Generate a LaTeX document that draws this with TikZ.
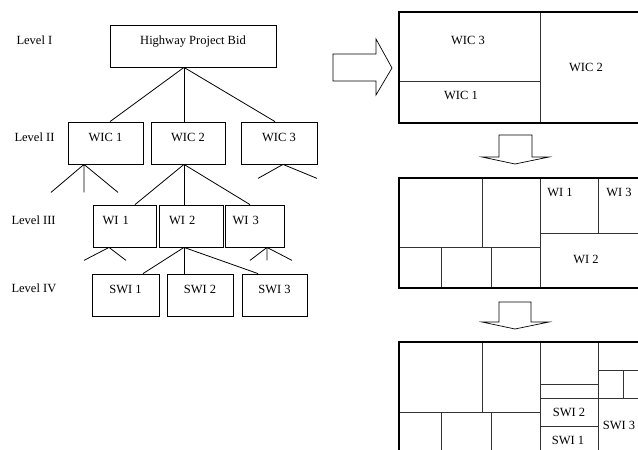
\documentclass[tikz,border=0pt]{standalone}
\usepackage{fontspec}
\setmainfont{Liberation Serif}
\usepackage{tikz}
\usetikzlibrary{calc}

\tikzset{
  box/.style={draw, line width=0.8pt, inner sep=0pt, minimum height=42,
    text height=9pt, text depth=13pt},
  wibox/.style={box, text width=44, align=left},
  frame/.style={line width=2pt},
  part/.style={line width=0.8pt, black!80},
  blockarrow/.style={line width=0.7pt, fill=white},
}

\begin{document}
\begin{tikzpicture}[x=1pt, y=-1pt, font=\fontsize{12.5}{15}\selectfont]
\useasboundingbox (0,0) rectangle (638,450);
% level labels
\node[anchor=base west] (lvla) at (13,44) {Level I};
\node[anchor=base west] (lvlb) at (11,141) {Level II};
\node[anchor=base west] (lvlc) at (8,224) {Level III};
\node[anchor=base west] (lvld) at (8,292) {Level IV};
% hierarchy
\node[box, minimum width=166] (hpb) at (193,46) {Highway Project Bid};
\node[box, minimum width=75] (wica) at (105.5,143) {WIC 1};
\node[box, minimum width=74] (wicb) at (188,143) {WIC 2};
\node[box, minimum width=76] (wicc) at (279,143) {WIC 3};
\node[wibox, minimum width=63] (wia) at (124.5,226) {WI 1};
\node[wibox, minimum width=64] (wib) at (191,226) {WI 2};
\node[wibox, minimum width=59] (wic) at (254.5,226) {WI 3};
\node[box, minimum width=67] (swia) at (125.5,295) {SWI 1};
\node[box, minimum width=66] (swib) at (200,295) {SWI 2};
\node[box, minimum width=65] (swic) at (274.5,295) {SWI 3};
\draw[line width=0.8pt] ([xshift=-9]hpb.south) -- ([xshift=4.5]wica.north);
\draw[line width=0.8pt] ([xshift=-9]hpb.south) -- ([xshift=-4]wicb.north);
\draw[line width=0.8pt] ([xshift=-9]hpb.south) -- ([xshift=-4]wicc.north);
\draw[line width=0.8pt] ([xshift=-4]wicb.south) -- ([xshift=10.5]wia.north);
\draw[line width=0.8pt] ([xshift=-4]wicb.south) -- ([xshift=-7]wib.north);
\draw[line width=0.8pt] ([xshift=-4]wicb.south) -- ([xshift=-4.5]wic.north);
\draw[line width=0.8pt] ([xshift=-7]wib.south) -- ([xshift=17.5]swia.north);
\draw[line width=0.8pt] ([xshift=-7]wib.south) -- ([xshift=-16]swib.north);
\draw[line width=0.8pt] ([xshift=-7]wib.south) -- ([xshift=-16.5]swic.north);
% open branches
\draw[line width=0.8pt] ([xshift=-21.5]wica.south) -- ++(-33,28)
  ([xshift=-21.5]wica.south) -- ++(0,28)
  ([xshift=-21.5]wica.south) -- ++(34,28);
\draw[line width=0.8pt] ([xshift=4]wicc.south) -- ++(-25,14)
  ([xshift=4]wicc.south) -- ++(34,14);
\draw[line width=0.8pt] ([xshift=-15.5]wia.south) -- ++(-25,13)
  ([xshift=-15.5]wia.south) -- ++(17,13);
\draw[line width=0.8pt] ([xshift=12.5]wic.south) -- ++(-17,13)
  ([xshift=12.5]wic.south) -- ++(0,13)
  ([xshift=12.5]wic.south) -- ++(25,13);
% block arrows
\draw[blockarrow] (333,54) -- (376,54) -- (376,39) -- (392,68) -- (376,95)
  -- (376,81) -- (333,81) -- cycle;
\draw[blockarrow] (499,135) -- (532,135) -- (532,157) -- (549,157) -- (515,164)
  -- (482,157) -- (499,157) -- cycle;
\draw[blockarrow] (499,302) -- (531,302) -- (531,322) -- (549,322) -- (515,329)
  -- (482,322) -- (499,322) -- cycle;
% treemaps
\begin{scope}
\clip (0,0) rectangle (638,450);
\draw[part] (540,12) -- (540,123) (399,81) -- (540,81);
\draw[frame] (399,12) rectangle (660,123);
\draw[part] (540,178) -- (540,288) (399,247) -- (540,247)
  (482,178) -- (482,247) (441,247) -- (441,288) (491,247) -- (491,288)
  (540,233) -- (660,233) (598,178) -- (598,233);
\draw[frame] (399,178) rectangle (660,288);
\draw[part] (540,342) -- (540,470) (399,412) -- (540,412)
  (482,342) -- (482,412) (441,412) -- (441,470) (491,412) -- (491,470)
  (598,342) -- (598,470) (540,384) -- (598,384) (540,398) -- (598,398)
  (540,426) -- (598,426) (598,370) -- (660,370) (598,398) -- (660,398)
  (623,370) -- (623,398);
\draw[frame] (399,342) rectangle (660,470);
\end{scope}
\node[anchor=base] (mwicc) at (468,44) {WIC 3};
\node[anchor=base] (mwica) at (461,99) {WIC 1};
\node[anchor=base] (mwicb) at (586,71) {WIC 2};
\node[anchor=base] (mwia) at (560,196) {WI 1};
\node[anchor=base] (mwic) at (619,196) {WI 3};
\node[anchor=base] (mwib) at (586,263) {WI 2};
\node[anchor=base] (mswib) at (569,416) {SWI 2};
\node[anchor=base] (mswia) at (568,444) {SWI 1};
\node[anchor=base] (mswic) at (619,429) {SWI 3};
\end{tikzpicture}
\end{document}
